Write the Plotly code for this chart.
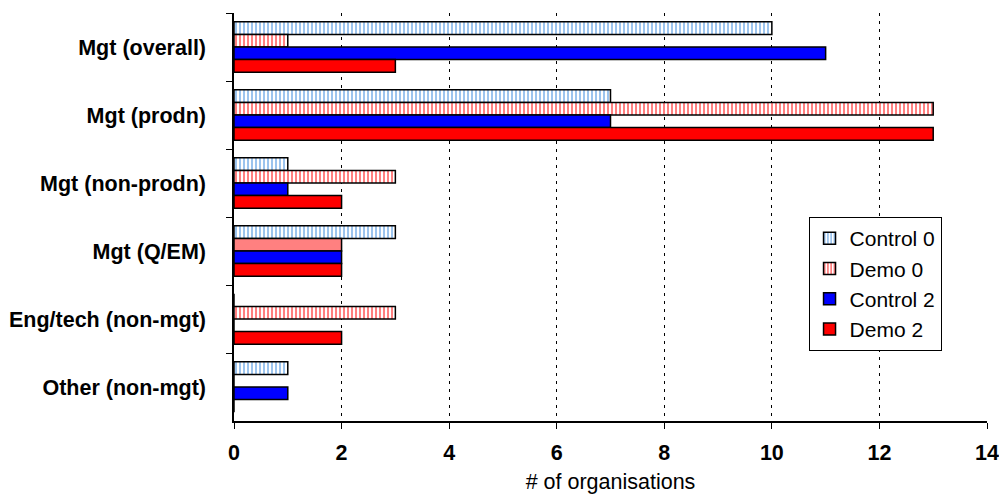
import plotly.graph_objects as go

categories = ["Mgt (overall)", "Mgt (prodn)", "Mgt (non-prodn)", "Mgt (Q/EM)",
              "Eng/tech (non-mgt)", "Other (non-mgt)"]
control_0 = [10, 7, 1, 3, 0, 1]
demo_0 = [1, 13, 3, 2, 3, 0]
control_2 = [11, 7, 1, 2, 0, 1]
demo_2 = [3, 13, 2, 2, 2, 0]
x_ticks = [0, 2, 4, 6, 8, 10, 12, 14]

FONT = "Liberation Sans, Arial, sans-serif"
FS = 21.5
outline = dict(color="black", width=1.5)

fig = go.Figure()
fig.add_trace(go.Bar(
    name="Control 0", y=categories, x=control_0, orientation="h",
    marker=dict(color="white", line=outline,
                pattern=dict(shape="|", fgcolor="#9cc4ee", bgcolor="white",
                             size=4, solidity=0.5, fillmode="replace")),
))
# Demo 0: striped; the short Q/EM bar renders as solid salmon
demo0_solidity = [0.5, 0.5, 0.5, 1.0, 0.5, 0.5]
fig.add_trace(go.Bar(
    name="Demo 0", y=categories, x=demo_0, orientation="h",
    marker=dict(color="white", line=outline,
                pattern=dict(shape="|", fgcolor="#ff8080", bgcolor="white",
                             size=4, solidity=demo0_solidity, fillmode="replace")),
))
fig.add_trace(go.Bar(
    name="Control 2", y=categories, x=control_2, orientation="h",
    marker=dict(color="#0000ff", line=outline),
))
fig.add_trace(go.Bar(
    name="Demo 2", y=categories, x=demo_2, orientation="h",
    marker=dict(color="#ff0000", line=outline),
))

fig.update_layout(
    width=999, height=494,
    margin=dict(l=234, r=12, t=13, b=73),
    paper_bgcolor="white", plot_bgcolor="white",
    barmode="group", bargap=0.26, bargroupgap=0,
    font=dict(family=FONT, color="black", size=FS),
    legend=dict(
        x=0.763, y=0.5, xanchor="left", yanchor="top",
        bgcolor="white", bordercolor="black", borderwidth=1,
        font=dict(size=21), traceorder="normal",
        itemwidth=30,
    ),
    xaxis=dict(
        range=[0, 14], tickvals=x_ticks, automargin=False,
        showgrid=True, gridcolor="black", griddash="3px,5px", gridwidth=1,
        zeroline=False, showline=True, linecolor="black", linewidth=1.5,
        ticks="outside", ticklen=6, tickcolor="black",
        ticklabelstandoff=5,
        tickfont=dict(size=FS, weight="bold"),
        title=dict(text="# of organisations", font=dict(size=FS), standoff=14),
    ),
    yaxis=dict(
        autorange="reversed", automargin=False,
        showline=True, linecolor="black", linewidth=1.5,
        ticks="outside", ticklen=6, tickcolor="black", tickson="boundaries",
        showgrid=False, ticklabelstandoff=4,
        tickfont=dict(size=FS, weight="bold"),
        ticksuffix="   ",
    ),
)

fig.write_html("out.html")
